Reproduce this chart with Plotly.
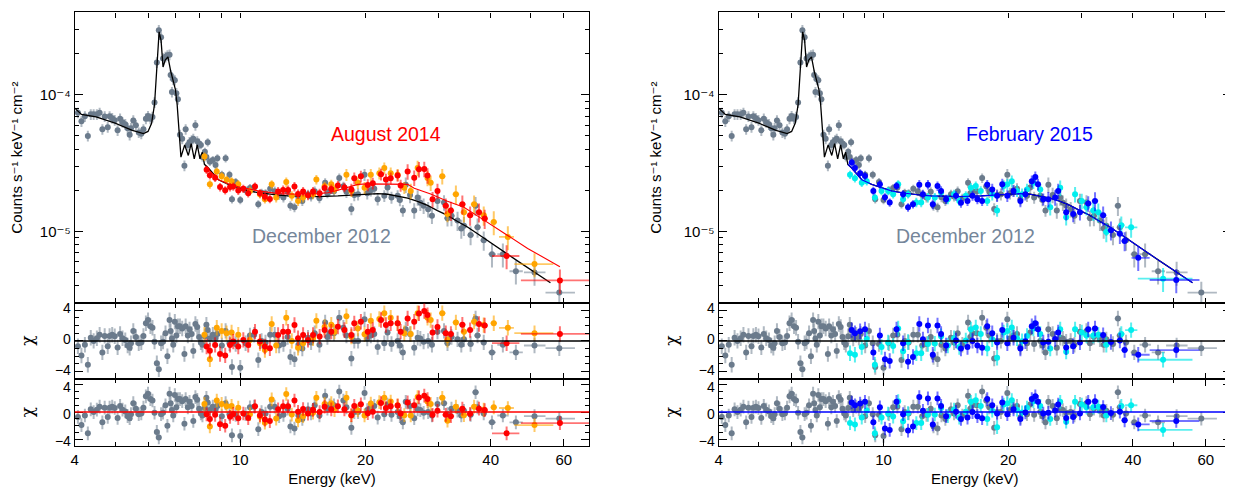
import numpy as np
import plotly.graph_objects as go

# ---------------- data (flux in units of 1e-5 counts s^-1 keV^-1 cm^-2) ----------------
FLUX_UNIT = 1e-5

# December 2012 (grey) - shared by both panels
GRAY_E = [4.07, 4.15, 4.23, 4.30, 4.37, 4.44, 4.52, 4.59, 4.66, 4.72, 4.80, 4.85, 4.92, 4.99, 5.07,
          5.14, 5.21, 5.29, 5.36, 5.42, 5.46, 5.53, 5.61, 5.70, 5.78, 5.85, 5.93, 6.00, 6.08, 6.15,
          6.22, 6.30, 6.37, 6.45, 6.52, 6.61, 6.68, 6.76, 6.80, 6.85, 6.90, 6.96, 7.02, 7.08, 7.16,
          7.25, 7.34, 7.39, 7.48, 7.55, 7.64, 7.71, 7.80, 7.88, 7.96, 8.04, 8.11, 8.22, 8.29, 8.35,
          8.45, 8.59, 8.72, 8.81, 9.03, 9.22, 9.42, 9.55, 9.75, 10.0,
          10.3, 10.55, 10.8, 11.05, 11.25, 11.5, 11.8, 12.1, 12.4, 12.7, 13.0, 13.2, 13.5, 13.8, 14.1,
          14.55, 14.8, 15.1, 15.5, 16.0, 16.2, 16.4, 16.8, 17.3, 17.7, 18.0, 18.5, 18.8, 19.2, 19.9,
          20.2, 20.6, 21.0, 21.4, 22.2, 22.6, 23.1, 23.9, 24.2, 24.6, 25.0, 25.6, 26.2, 26.7, 27.1,
          27.6, 28.3, 28.9, 29.8, 30.9, 31.5, 32.2, 33.3, 34.0, 34.5, 35.8, 36.8, 37.2, 38.5]
GRAY_FLUX = [7.4, 6.4, 6.97, 5.0, 7.2, 7.2, 7.2, 7.4, 5.6, 6.95, 5.8, 6.97, 6.75, 6.53, 5.5,
             6.7, 6.3, 6.1, 5.7, 5.1, 5.7, 6.5, 6.0, 5.3, 5.2, 5.6, 6.7, 7.0, 6.7, 6.9,
             8.8, 17.3, 29.8, 26.4, 18.5, 19.0, 19.5, 19.7, 14.0, 10.5, 13.0, 12.8, 10.3, 9.3, 5.1,
             4.77, 3.03, 5.6, 4.3, 4.5, 4.65, 4.77, 6.0, 4.57, 4.4, 4.3, 3.5, 3.83, 3.5, 4.5,
             3.24, 3.33, 3.07, 3.43, 2.6, 3.43, 2.6, 1.72, 2.3, 1.7,
             2.0, 2.08, 2.1, 1.58, 1.92, 1.9, 2.05, 1.97, 1.85, 1.77, 1.95, 1.54, 1.50, 1.78, 1.67,
             1.87, 1.8, 1.97, 1.75, 2.27, 1.9, 1.97, 1.97, 2.46, 2.14, 1.95, 1.46, 1.85, 1.87, 2.6,
             1.9, 2.0, 2.05, 1.72, 1.82, 2.1, 1.77, 1.82, 1.7, 1.42, 2.2, 1.85, 1.42, 1.77, 1.62,
             1.54, 1.45, 1.30, 1.67, 1.63, 1.25, 1.30, 1.20, 1.05, 1.10, 0.94, 1.54, 1.07, 0.86]
GRAY_CHI = [-0.7, -1.9, -0.5, -3.1, 0.4, 0.0, 0.35, 0.8, -1.5, 0.65, -0.7, 0.65, 0.8, 0.6, -0.85,
            0.9, 0.35, 0.1, -0.6, -0.9, -0.3, 1.3, 0.5, -0.3, -0.2, 0.65, 2.3, 2.7, 1.9, 1.7,
            -0.1, -2.9, -3.7, -0.3, -0.1, 1.0, -2.0, 2.7, 1.3, 0.3, -0.5, 2.5, 0.7, 1.9, 1.9,
            1.6, -1.7, 1.9, 0.7, 1.5, 0.9, -1.3, 2.2, 1.8, 0.5, -0.2, -0.5, 0.6, 2.1, 1.4,
            0.3, 0.8, 0.4, 0.9, -0.6, 1.3, -0.3, -3.4, -0.4, -3.5,
            -0.3, 0.7, 0.8, -2.5, 0.0, -0.2, 0.8, 0.8, -0.6, -0.4, 0.5, -2.1, -2.4, -0.5, -1.0,
            0.4, -0.2, 1.0, -0.5, 2.4, 0.5, 1.0, 1.0, 3.0, 1.7, 0.7, -2.3, 0.0, 0.0, 2.8,
            0.3, 0.7, 0.9, -0.8, -0.3, 1.1, -0.4, 0.0, -0.6, -1.5, 1.5, 0.9, -0.9, 0.4, 0.3,
            -0.1, 0.0, -0.5, 1.2, 1.3, -0.3, 0.5, 0.2, -0.5, 0.2, -0.4, 2.9, 0.7, -0.2]
GRAY_WIDE_E = [40.3, 42.8, 46.0, 51.0, 58.5]
GRAY_WIDE_LO = [39.5, 41.5, 44.4, 48.1, 54.2]
GRAY_WIDE_HI = [41.2, 44.2, 47.8, 54.2, 63.8]
GRAY_WIDE_FLUX = [0.68, 0.68, 0.51, 0.50, 0.356]
GRAY_WIDE_CHI = [-1.5, -0.5, -1.5, -0.6, -0.95]

# Best-fit model, December 2012 (black line)
BLACK_MODEL_E = [4.0, 4.08, 4.15, 4.5, 5.0, 5.5, 5.85, 6.0, 6.12, 6.22, 6.3, 6.38, 6.45, 6.52, 6.6,
                 6.7, 6.8, 6.9, 6.98, 7.05, 7.12, 7.2, 7.35, 7.5, 7.62, 7.75, 7.88, 8.0, 8.1,
                 8.2, 8.38, 8.86, 9.36, 9.89, 10.45, 11.05, 11.67, 12.33, 13.03, 14.55,
                 15.38, 17.17, 18.14, 19.17, 20.26, 21.41, 22.62, 23.9, 25.26, 26.69, 28.2, 29.8,
                 31.5, 33.3, 35.1, 37.2, 39.3, 41.5, 43.9, 46.3, 55.7]
BLACK_MODEL_FLUX = [8.0, 7.5, 7.2, 6.9, 6.2, 5.5, 5.2, 5.4, 6.2, 8.5, 15.0, 29.0, 25.0, 16.0, 18.0,
                    19.0, 15.0, 12.5, 11.0, 8.5, 5.5, 3.5, 4.3, 3.6, 4.4, 3.4, 4.3, 3.4, 3.8,
                    3.1, 2.91, 2.39, 2.21, 2.09, 1.98, 1.92, 1.87, 1.84, 1.82, 1.81,
                    1.80, 1.82, 1.84, 1.87, 1.89, 1.89, 1.87, 1.82, 1.75, 1.66, 1.55, 1.42,
                    1.31, 1.18, 1.08, 0.96, 0.86, 0.77, 0.68, 0.61, 0.42]

# August 2014 (red = FPMA, orange = FPMB) and its model (red line)
RED_E = [8.3, 8.45, 8.70, 8.94, 9.20, 9.45, 9.62, 9.89, 10.17, 10.45, 10.85, 11.15, 11.46, 11.78,
         12.33, 12.68, 13.03, 13.5, 13.77, 14.16, 14.55, 14.96, 15.52, 15.95, 16.55, 17.17, 17.8,
         18.5, 18.8, 19.5, 20.26, 20.83, 21.8, 22.4, 23.0, 23.9, 24.3, 25.26, 26.2, 26.9, 27.7,
         28.2, 29.0, 29.8, 31.2, 32.1, 34.2, 35.7, 37.5, 38.7]
RED_FLUX = [2.83, 2.58, 2.47, 2.11, 2.00, 2.11, 2.13, 1.99, 2.05, 1.90, 2.13, 1.90, 1.79, 1.73,
            1.96, 2.01, 2.01, 2.13, 1.88, 1.96, 1.84, 1.96, 1.90, 2.08, 2.04, 2.17, 2.10,
            2.03, 2.45, 2.53, 2.19, 2.25, 2.62, 2.40, 2.45, 2.57, 2.17, 2.75, 2.47, 2.85, 2.87,
            2.57, 1.72, 1.98, 1.54, 1.42, 1.58, 1.31, 1.38, 1.24]
RED_CHI1 = [-0.73, -1.29, -0.52, -1.72, -1.89, -0.52, -0.09, -0.73, 0.13, -0.52, 1.20, -0.09, -0.73,
            -0.95, 0.77, 1.20, 1.20, 2.06, 0.34, 0.77, 0.13, 0.77, 0.56, 1.42, 1.20, 1.85, 1.42,
            0.77, 2.28, 2.49, 1.20, 1.42, 2.71, 2.06, 2.28, 2.28, 1.20, 2.92, 2.49, 3.57, 3.87,
            3.35, 1.1, 1.8, 1.0, 0.9, 2.1, 1.4, 2.2, 2.0]
RED_CHI2 = [-0.33, -1.0, -0.4, -1.77, -2.0, -0.69, -0.26, -0.9, -0.2, -0.88, 0.84, -0.45, -1.09,
            -1.31, 0.41, 0.84, 0.84, 1.7, 0.04, 0.45, -0.22, 0.33, 0.0, 0.8, 0.4, 0.85, 0.4,
            -0.45, 0.9, 1.13, -0.16, 0.06, 1.33, 0.6, 0.85, 0.96, -0.2, 1.42, 1.0, 2.15, 2.4,
            1.9, -0.4, 0.2, -0.4, -0.6, 0.5, -0.25, 0.5, 0.3]
RED_WIDE_E = [43.7, 58.7]
RED_WIDE_LO = [40.3, 47.3]
RED_WIDE_HI = [46.9, 72.0]
RED_WIDE_FLUX = [0.66, 0.437]
RED_WIDE_CHI1 = [-0.3, 0.9]
RED_WIDE_CHI2 = [-3.1, -1.6]

ORANGE_E = [8.2, 8.45, 8.78, 9.02, 9.27, 9.53, 9.89, 10.55, 11.15, 11.46, 11.9, 12.2, 12.9, 13.3,
            13.77, 14.16, 14.96, 15.24, 15.95, 16.55, 16.85, 18.0, 18.5, 19.17, 19.9, 20.6, 21.6,
            22.2, 23.0, 23.9, 24.8, 25.7, 26.7, 28.2, 28.7, 30.6, 31.5, 33.0, 34.5, 36.5, 38.5, 40.7]
ORANGE_FLUX = [3.53, 2.21, 2.75, 2.53, 2.39, 2.33, 2.21, 1.98, 1.87, 1.72, 2.21, 1.77, 2.3, 1.82,
               1.67, 1.77, 1.87, 2.4, 2.14, 2.21, 2.03, 2.6, 1.98, 2.27, 2.09, 2.60, 2.67,
               2.91, 2.67, 2.60, 2.09, 1.98, 2.91, 2.46, 2.27, 2.53, 1.34, 1.87, 1.38, 1.58, 1.31, 1.17]
ORANGE_CHI1 = [0.8, -2.4, 1.7, 1.3, 1.0, 1.1, 0.8, 0.1, -0.3, -1.2, 2.2, -0.6, 3.0, 0.0,
               -0.9, -0.3, 0.35, 2.6, 1.8, 2.1, 1.2, 3.2, 0.55, 1.6, 0.85, 2.6, 2.85,
               3.6, 3.0, 2.3, 1.0, 0.9, 3.6, 3.0, 2.7, 3.6, 0.15, 2.4, 1.2, 2.5, 2.05, 2.3]
ORANGE_CHI2 = [1.2, -2.1, 1.7, 1.2, 0.85, 0.9, 0.65, -0.3, -0.65, -1.55, 1.85, -0.95, 2.65, -0.36,
               -1.2, -0.6, -0.1, 2.1, 1.2, 1.3, 0.3, 2.1, -0.5, 0.25, -0.5, 1.25, 1.45,
               2.1, 1.55, 1.0, -0.45, -0.5, 2.2, 1.55, 1.2, 2.1, -1.25, 0.8, -0.45, 0.8, 0.35, 0.7]
ORANGE_WIDE_E = [44.0, 51.0]
ORANGE_WIDE_LO = [41.9, 45.6]
ORANGE_WIDE_HI = [45.5, 56.6]
ORANGE_WIDE_FLUX = [0.91, 0.576]
ORANGE_WIDE_CHI1 = [1.7, 1.0]
ORANGE_WIDE_CHI2 = [0.6, -1.9]

RED_MODEL_E = [8.25, 8.38, 8.86, 9.36, 9.89, 10.45, 11.05, 12.33, 13.77, 15.38, 16.25, 17.17, 18.14,
               19.17, 20.26, 23.9, 25.26, 26.2, 28.7, 31.5, 34.5, 37.9, 41.5, 49.1, 58.7]
RED_MODEL_FLUX = [3.0, 2.83, 2.39, 2.23, 2.12, 2.04, 1.98, 1.89, 1.87, 1.89, 1.92, 2.0, 2.09,
                  2.21, 2.23, 2.23, 2.21, 2.07, 1.88, 1.66, 1.5, 1.25, 1.05, 0.75, 0.55]

# February 2015 (blue = FPMA, cyan = FPMB) and its model (blue line)
BLUE_E = [8.38, 8.53, 8.78, 9.02, 9.45, 9.8, 10.08, 10.35, 10.75, 11.15, 11.46, 11.78, 12.2, 12.45,
          12.8, 13.15, 13.5, 13.77, 14.16, 14.96, 15.38, 15.95, 16.4, 16.85, 17.3, 17.8, 18.3, 18.8,
          19.35, 19.9, 20.6, 21.4, 22.0, 22.8, 23.25, 23.6, 24.3, 25.0, 25.96, 26.4, 27.6, 28.7,
          29.8, 31.2, 32.4, 33.9, 35.4, 37.2, 38.2]
BLUE_FLUX = [3.2, 2.91, 2.67, 2.55, 1.98, 2.21, 1.78, 1.63, 2.15, 1.87, 1.5, 1.58, 2.2, 1.87,
             2.2, 1.58, 2.15, 1.98, 1.72, 1.82, 1.62, 1.67, 1.82, 1.72, 1.67, 2.2, 2.03, 1.82,
             2.21, 1.82, 1.98, 1.67, 1.87, 2.33, 2.5, 2.21, 1.72, 1.72, 1.77, 1.98, 1.38, 1.34,
             1.38, 1.6, 1.67, 1.31, 1.02, 0.96, 0.85]
BLUE_CHI = [1.4, 1.0, 1.25, 1.5, -1.5, 0.7, -2.4, -2.6, 1.5, -0.3, -2.7, -2.1, 2.2, 0.2,
            2.0, -1.8, 2.0, 0.9, -0.6, 0.05, -1.0, -0.8, 0.0, -0.6, -0.9, 1.9, 1.0, -0.2,
            1.4, -0.3, 0.4, -1.0, -0.05, 1.9, 2.3, 1.5, -0.2, -0.1, 0.25, 1.1, -0.85, -0.7,
            -0.2, 1.5, 1.6, 0.75, -0.15, 0.05, -1.2]
BLUE_WIDE_E = [41.2, 50.9]
BLUE_WIDE_LO = [39.7, 43.9]
BLUE_WIDE_HI = [43.9, 57.9]
BLUE_WIDE_FLUX = [0.64, 0.44]
BLUE_WIDE_CHI1 = [-1.8, -1.2]
BLUE_WIDE_CHI2 = [-1.8, -1.3]

CYAN_E = [8.3, 8.53, 8.86, 9.11, 9.53, 9.89, 10.26, 10.55, 10.85, 11.15, 11.46, 12.0, 12.33, 12.8,
          13.3, 13.77, 14.3, 14.8, 15.24, 15.8, 16.25, 16.7, 17.17, 17.8, 18.3, 18.8, 19.5, 19.9,
          20.4, 21.0, 21.6, 22.2, 23.0, 23.9, 25.26, 26.7, 27.6, 29.0, 30.1, 30.9, 32.1, 33.0,
          34.5, 37.5]
CYAN_FLUX = [2.6, 2.45, 2.27, 2.33, 1.77, 1.98, 1.98, 1.87, 2.21, 1.72, 1.87, 1.63, 1.63, 1.77,
             1.77, 1.93, 1.72, 1.87, 1.67, 1.82, 2.09, 2.15, 1.98, 1.67, 1.87, 1.42, 2.15, 2.21,
             2.33, 1.98, 1.87, 2.03, 2.27, 2.03, 1.50, 2.09, 1.27, 1.87, 1.67, 1.50, 1.42, 1.38,
             0.99, 1.11]
CYAN_CHI = [-1.6, -1.8, -0.8, 0.25, -3.1, -0.8, -0.2, -0.65, 1.6, -1.35, -0.15, -1.6, -1.6, -0.4,
            -0.35, 0.6, -0.6, 0.35, -0.8, 0.05, 1.5, 1.75, 0.9, -1.0, 0.2, -2.2, 1.1, 1.3,
            1.75, 0.35, -0.05, 0.65, 1.6, 0.9, -1.0, 1.5, -1.4, 1.5, 1.1, 0.7, 0.7, 0.8,
            -0.5, 0.9]
CYAN_WIDE_E = [39.6, 47.3]
CYAN_WIDE_LO = [38.3, 41.1]
CYAN_WIDE_HI = [41.0, 55.7]
CYAN_WIDE_FLUX = [1.07, 0.45]
CYAN_WIDE_CHI1 = [1.4, -2.45]
CYAN_WIDE_CHI2 = [1.0, -2.6]

BLUE_MODEL_E = [8.2, 8.38, 8.86, 9.36, 9.89, 10.45, 11.05, 11.67, 12.33, 13.03, 14.55, 15.38, 17.17,
                18.14, 19.17, 20.26, 21.41, 22.62, 23.9, 25.26, 26.69, 28.2, 29.8, 31.5, 33.3,
                35.1, 37.2, 39.3, 41.5, 43.9, 46.3, 55.7]
BLUE_MODEL_FLUX = [3.1, 2.91, 2.39, 2.21, 2.09, 1.98, 1.92, 1.87, 1.84, 1.82, 1.81, 1.80, 1.82,
                   1.84, 1.87, 1.89, 1.89, 1.87, 1.82, 1.75, 1.66, 1.55, 1.42, 1.31, 1.18,
                   1.08, 0.96, 0.86, 0.77, 0.68, 0.61, 0.42]

# axis ticks
ENERGY_TICKS = [4, 10, 20, 40, 60]
ENERGY_MINOR = [5, 6, 7, 8, 9, 30, 50]
FLUX_TICKS = [1e-5, 1e-4]
FLUX_TICK_TEXT = ["10\u207b\u2075", "10\u207b\u2074"]
FLUX_MINOR = [4e-6, 5e-6, 6e-6, 7e-6, 8e-6, 9e-6, 2e-5, 3e-5, 4e-5, 5e-5, 6e-5, 7e-5, 8e-5, 9e-5,
              2e-4, 3e-4]
CHI_TICKS = [-4, 0, 4]
CHI_MINOR = [-3, -2, -1, 1, 2, 3]

# approximate relative flux uncertainty per energy band, and bin half-width per band
ERR_BAND_EDGES = [8, 12, 18, 25, 32, 40]
ERR_BAND_FRAC = [0.09, 0.07, 0.08, 0.10, 0.13, 0.16, 0.20]
XERR_BAND_EDGES = [20, 30]
XERR_BAND_FRAC = [0.006, 0.01, 0.018]

# ---------------- styling ----------------
FONT = "Liberation Sans, Arial, Helvetica, DejaVu Sans, sans-serif"
C_GRAY, E_GRAY = "#6B7B8C", "rgba(112,128,144,0.55)"
C_RED, E_RED = "#FF0000", "rgba(255,0,0,0.55)"
C_ORANGE, E_ORANGE = "#FFA500", "rgba(255,165,0,0.6)"
C_BLUE, E_BLUE = "#0000FF", "rgba(0,0,255,0.55)"
C_CYAN, E_CYAN = "#00EEEE", "rgba(0,230,230,0.65)"
TXT_GRAY = "#75869A"

AXES = [("x", "y", "x2", "y2", "x3", "y3"), ("x4", "y4", "x5", "y5", "x6", "y6")]

fig = go.Figure()


def band(E, edges, fracs):
    return np.asarray(fracs)[np.digitize(E, edges)]


def add_series(col, E, F, C1, C2, color, ecolor, lo=None, hi=None):
    E = np.asarray(E, dtype=float)
    f = np.asarray(F, dtype=float) * FLUX_UNIT
    if lo is None:
        ex = dict(type="data", array=E * band(E, XERR_BAND_EDGES, XERR_BAND_FRAC), symmetric=True)
    else:
        ex = dict(type="data", array=np.asarray(hi) - E, arrayminus=E - np.asarray(lo),
                  symmetric=False)
    ex.update(color=ecolor, thickness=1.8, width=0)
    ey = dict(type="data", array=f * band(E, ERR_BAND_EDGES, ERR_BAND_FRAC),
              color=ecolor, thickness=2, width=0)
    mk = dict(color=color, size=6, line=dict(width=0))
    xa, ya, xb, yb, xc, yc = AXES[col]
    fig.add_trace(go.Scatter(x=E, y=f, mode="markers", marker=mk, error_x=ex, error_y=ey,
                             xaxis=xa, yaxis=ya, showlegend=False, hoverinfo="skip"))
    ec = dict(type="constant", value=1, color=ecolor, thickness=2, width=0)
    fig.add_trace(go.Scatter(x=E, y=C1, mode="markers", marker=mk, error_x=ex, error_y=ec,
                             xaxis=xb, yaxis=yb, showlegend=False, hoverinfo="skip"))
    fig.add_trace(go.Scatter(x=E, y=C2, mode="markers", marker=mk, error_x=ex, error_y=ec,
                             xaxis=xc, yaxis=yc, showlegend=False, hoverinfo="skip"))


def add_model(col, E, F, color, width):
    xa, ya = AXES[col][0], AXES[col][1]
    fig.add_trace(go.Scatter(x=E, y=np.asarray(F) * FLUX_UNIT, mode="lines",
                             line=dict(color=color, width=width), xaxis=xa, yaxis=ya,
                             showlegend=False, hoverinfo="skip"))


# left panel: December 2012 vs August 2014
add_series(0, GRAY_E, GRAY_FLUX, GRAY_CHI, GRAY_CHI, C_GRAY, E_GRAY)
add_series(0, GRAY_WIDE_E, GRAY_WIDE_FLUX, GRAY_WIDE_CHI, GRAY_WIDE_CHI, C_GRAY, E_GRAY,
           GRAY_WIDE_LO, GRAY_WIDE_HI)
add_model(0, BLACK_MODEL_E, BLACK_MODEL_FLUX, "black", 1.3)
add_series(0, ORANGE_E, ORANGE_FLUX, ORANGE_CHI1, ORANGE_CHI2, C_ORANGE, E_ORANGE)
add_series(0, ORANGE_WIDE_E, ORANGE_WIDE_FLUX, ORANGE_WIDE_CHI1, ORANGE_WIDE_CHI2, C_ORANGE,
           E_ORANGE, ORANGE_WIDE_LO, ORANGE_WIDE_HI)
add_series(0, RED_E, RED_FLUX, RED_CHI1, RED_CHI2, C_RED, E_RED)
add_series(0, RED_WIDE_E, RED_WIDE_FLUX, RED_WIDE_CHI1, RED_WIDE_CHI2, C_RED, E_RED,
           RED_WIDE_LO, RED_WIDE_HI)
add_model(0, RED_MODEL_E, RED_MODEL_FLUX, C_RED, 1.1)

# right panel: December 2012 vs February 2015
add_series(1, GRAY_E, GRAY_FLUX, GRAY_CHI, GRAY_CHI, C_GRAY, E_GRAY)
add_series(1, GRAY_WIDE_E, GRAY_WIDE_FLUX, GRAY_WIDE_CHI, GRAY_WIDE_CHI, C_GRAY, E_GRAY,
           GRAY_WIDE_LO, GRAY_WIDE_HI)
add_model(1, BLACK_MODEL_E, BLACK_MODEL_FLUX, "black", 1.3)
add_series(1, CYAN_E, CYAN_FLUX, CYAN_CHI, CYAN_CHI, C_CYAN, E_CYAN)
add_series(1, CYAN_WIDE_E, CYAN_WIDE_FLUX, CYAN_WIDE_CHI1, CYAN_WIDE_CHI2, C_CYAN, E_CYAN,
           CYAN_WIDE_LO, CYAN_WIDE_HI)
add_series(1, BLUE_E, BLUE_FLUX, BLUE_CHI, BLUE_CHI, C_BLUE, E_BLUE)
add_series(1, BLUE_WIDE_E, BLUE_WIDE_FLUX, BLUE_WIDE_CHI1, BLUE_WIDE_CHI2, C_BLUE, E_BLUE,
           BLUE_WIDE_LO, BLUE_WIDE_HI)
add_model(1, BLUE_MODEL_E, BLUE_MODEL_FLUX, C_BLUE, 1.1)

# ---------------- layout ----------------
# the page body has an 8 px margin, so the figure is 8 px smaller each way and
# all pixel positions below are page positions minus 8
OFF = 8
W, H = 1233 - OFF, 491 - OFF


def fx(px):
    return (px - OFF) / W


def fy(py):
    return (H - (py - OFF)) / H


XDOM = [[fx(71), fx(587)], [fx(717), fx(1231)]]
YDOM_SPEC = [fy(304), fy(9.5)]
YDOM_C1 = [fy(381), fy(304)]
YDOM_C2 = [fy(449), fy(381)]
XRANGE = [np.log10(4.0), np.log10(69.0)]

tickfont = dict(family=FONT, size=15, color="black")
chitickfont = dict(family=FONT, size=14, color="black")
LW = 1.2


def xaxis(dom, anchor, labels):
    d = dict(domain=dom, anchor=anchor, type="log", range=XRANGE,
             showline=True, linecolor="black", linewidth=LW, mirror="allticks",
             ticks="inside", tickwidth=1, tickcolor="black", tickmode="array",
             showgrid=False, zeroline=False, showticklabels=labels, tickfont=tickfont)
    if labels:
        d.update(tickvals=ENERGY_TICKS, ticktext=[str(v) for v in ENERGY_TICKS], ticklen=7,
                 minor=dict(tickmode="array", tickvals=ENERGY_MINOR, ticks="inside",
                            ticklen=4, tickcolor="black", showgrid=False))
        d["title"] = dict(text="Energy (keV)", font=dict(family=FONT, size=15, color="black"),
                          standoff=6)
    else:
        # no labels on these axes: draw every tick as a (label-free) minor tick
        d.update(tickvals=[], ticklen=7,
                 minor=dict(tickmode="array", tickvals=sorted(ENERGY_TICKS + ENERGY_MINOR),
                            ticks="inside", ticklen=5, tickcolor="black", showgrid=False))
    return d


def spec_yaxis(dom, anchor, title):
    d = dict(domain=dom, anchor=anchor, type="log",
             range=[np.log10(3e-6), -3.396],
             showline=True, linecolor="black", linewidth=LW, mirror="allticks",
             ticks="inside", ticklen=8, tickcolor="black",
             tickmode="array", tickvals=FLUX_TICKS, ticktext=FLUX_TICK_TEXT,
             minor=dict(tickmode="array", tickvals=FLUX_MINOR,
                        ticks="inside", ticklen=4, tickcolor="black", showgrid=False),
             showgrid=False, zeroline=False, tickfont=tickfont)
    d["title"] = dict(text=title, font=dict(family=FONT, size=15, color="black"), standoff=18)
    return d


def chi_yaxis(dom, anchor, rng, shift):
    return dict(domain=dom, anchor=anchor, range=rng,
                showline=True, linecolor="black", linewidth=LW, mirror="allticks",
                ticks="inside", ticklen=8, tickcolor="black",
                tickmode="array", tickvals=CHI_TICKS,
                ticktext=[str(v).replace("-", "\u2212") for v in CHI_TICKS],
                ticklabelshift=shift,
                minor=dict(tickmode="array", tickvals=CHI_MINOR, ticks="inside",
                           ticklen=4, tickcolor="black", showgrid=False),
                showgrid=False, zeroline=False, tickfont=chitickfont,
                title=dict(text="\u03c7", font=dict(family="DejaVu Serif, serif", size=17,
                                                    color="black"), standoff=16))


ytitle = "Counts s\u207b\u00b9 keV\u207b\u00b9 cm\u207b\u00b2"
layout = dict(width=W, height=H, margin=dict(l=0, r=0, t=0, b=0, pad=0), autosize=False,
              paper_bgcolor="white", plot_bgcolor="white", showlegend=False,
              font=dict(family=FONT, color="black"))
for col in range(2):
    xa, ya, xb, yb, xc, yc = AXES[col]
    layout["xaxis" + xa[1:]] = xaxis(XDOM[col], ya, False)
    layout["xaxis" + xb[1:]] = xaxis(XDOM[col], yb, False)
    layout["xaxis" + xc[1:]] = xaxis(XDOM[col], yc, True)
    layout["yaxis" + ya[1:]] = spec_yaxis(YDOM_SPEC, xa, ytitle)
    layout["yaxis" + yb[1:]] = chi_yaxis(YDOM_C1, xb, [-4.9, 4.96], -2)
    layout["yaxis" + yc[1:]] = chi_yaxis(YDOM_C2, xc, [-4.9, 4.9], 2)
fig.update_layout(**layout)

# zero lines in residual panels
for col, c2color in ((0, C_RED), (1, C_BLUE)):
    xa, ya, xb, yb, xc, yc = AXES[col]
    fig.add_shape(type="line", xref=xb + " domain", x0=0, x1=1, yref=yb, y0=0, y1=0,
                  line=dict(color="black", width=1.5))
    fig.add_shape(type="line", xref=xc + " domain", x0=0, x1=1, yref=yc, y0=0, y1=0,
                  line=dict(color=c2color, width=1.5))

# epoch labels
labels = [(383, 133, "August 2014", C_RED), (319, 236, "December 2012", TXT_GRAY),
          (1029, 133, "February 2015", C_BLUE), (965, 236, "December 2012", TXT_GRAY)]
for px, py, txt, colr in labels:
    fig.add_annotation(x=fx(px), y=fy(py), xref="paper", yref="paper", text=txt,
                       showarrow=False, xanchor="center", yanchor="middle",
                       font=dict(family=FONT, size=19.5, color=colr))

fig.write_html("out.html")
